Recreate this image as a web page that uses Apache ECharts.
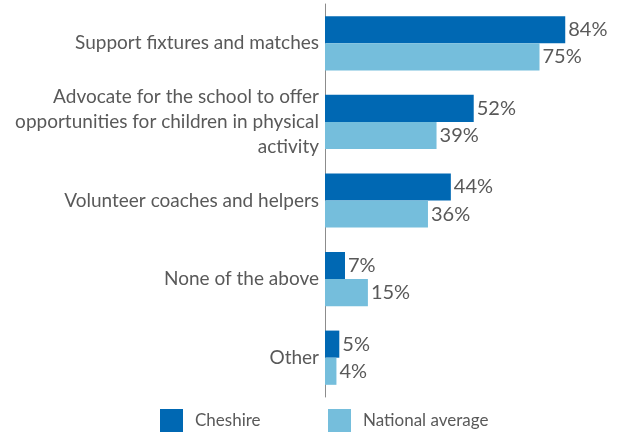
<!DOCTYPE html>
<html>
<head>
<meta charset="utf-8">
<script src="https://cdn.jsdelivr.net/npm/echarts@6/dist/echarts.min.js"></script>
<style>html,body{margin:0;padding:0;background:#fff}#c{width:622px;height:432px}</style>
</head>
<body>
<div id="c"></div>
<script>
const categories = [
  'Support fixtures and matches',
  'Advocate for the school to offer\nopportunities for children in physical\nactivity',
  'Volunteer coaches and helpers',
  'None of the above',
  'Other'
];
const cheshire = [84, 52, 44, 7, 5];
const national = [75, 39, 36, 15, 4];
const seriesNames = ['Cheshire', 'National average'];

const FONT = 'Lato';
const TXT = '#595959';
const chart = echarts.init(document.getElementById('c'));
const labelOpt = {
  show: true, position: 'right', distance: 3,
  formatter: '{c}%', color: TXT, fontFamily: FONT, fontSize: 20
};
chart.setOption({
  animation: false,
  grid: { left: 325, right: 11, top: 4, bottom: 35, containLabel: false },
  legend: [
    { data: [seriesNames[0]], left: 160, top: 409, padding: 0, itemWidth: 23, itemHeight: 23, icon: 'rect',
      textStyle: { color: TXT, fontFamily: FONT, fontSize: 17, padding: [0, 0, 0, 7] } },
    { data: [seriesNames[1]], left: 328, top: 409, padding: 0, itemWidth: 23, itemHeight: 23, icon: 'rect',
      textStyle: { color: TXT, fontFamily: FONT, fontSize: 17, padding: [0, 0, 0, 7] } }
  ],
  xAxis: { type: 'value', min: 0, max: 100, show: false },
  yAxis: {
    type: 'category', data: categories, inverse: true,
    axisLine: { show: true, lineStyle: { color: '#8c8c8c', width: 1 } },
    axisTick: { show: false },
    axisLabel: { color: TXT, fontFamily: FONT, fontSize: 19, lineHeight: 25, margin: 6, align: 'right' }
  },
  series: [
    { name: seriesNames[0], type: 'bar', data: cheshire, barGap: '0%', barCategoryGap: '31%',
      itemStyle: { color: '#0068b3' }, label: labelOpt },
    { name: seriesNames[1], type: 'bar', data: national, barGap: '0%', barCategoryGap: '31%',
      itemStyle: { color: '#75bedc' }, label: labelOpt }
  ]
});
</script>
</body>
</html>
